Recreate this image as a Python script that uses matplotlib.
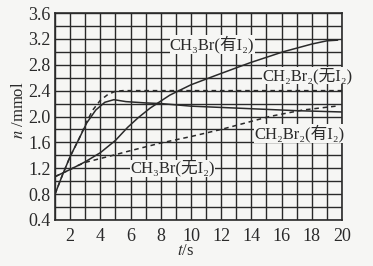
import numpy as np
import matplotlib
matplotlib.use("Agg")
import matplotlib.pyplot as plt
from matplotlib.ticker import MultipleLocator

# values (t in s, n in mmol)
ch3br_i2_t = [1, 2, 3, 4, 5, 5.8, 6.5, 7.3, 8.6, 10, 11.7, 13.9, 16.1, 18, 19, 19.7]
ch3br_i2_n = [1.07, 1.18, 1.30, 1.44, 1.63, 1.83, 1.98, 2.13, 2.33, 2.49, 2.64, 2.83, 3.00, 3.12, 3.17, 3.18]

ch3br_noi2_t = [1, 2, 2.5, 3, 4, 5, 5.8, 8, 10, 12, 15.2, 17.4, 19.6]
ch3br_noi2_n = [1.07, 1.18, 1.24, 1.29, 1.35, 1.41, 1.46, 1.59, 1.69, 1.80, 2.00, 2.10, 2.16]

ch2br2_i2_t = [1, 1.5, 2, 2.6, 3.1, 3.7, 4.3, 4.9, 5.7, 7, 8, 10, 12, 14, 17, 20]
ch2br2_i2_n = [0.80, 1.10, 1.38, 1.66, 1.90, 2.10, 2.22, 2.26, 2.23, 2.21, 2.20, 2.16, 2.14, 2.12, 2.09, 2.07]

ch2br2_noi2_t = [1, 1.5, 2, 2.6, 3.1, 3.5, 4.0, 4.5, 5.0, 5.5, 20]
ch2br2_noi2_n = [0.80, 1.10, 1.38, 1.66, 1.92, 2.10, 2.25, 2.34, 2.39, 2.40, 2.40]

labels = ["CH₃Br(有I₂)", "CH₂Br₂(无I₂)", "CH₂Br₂(有I₂)", "CH₃Br(无I₂)"]
label_pos = [(11.4, 3.11), (17.7, 2.63), (17.2, 1.74), (8.8, 1.20)]

serif = ["Liberation Serif", "DejaVu Serif", "Noto Sans CJK SC"]
plt.rcParams["font.family"] = serif
plt.rcParams["mathtext.fontset"] = "stix"

ink = "#2a2a2a"
bg = "#f6f6f4"

fig = plt.figure(figsize=(3.73, 2.66), dpi=100, facecolor=bg)
ax = fig.add_axes([55 / 373, 1 - 220 / 266, 287 / 373, 207 / 266])
ax.set_facecolor(bg)

ax.set_xlim(1, 20)
ax.set_ylim(0.4, 3.6)
ax.xaxis.set_major_locator(MultipleLocator(2))
ax.xaxis.set_minor_locator(MultipleLocator(1))
ax.yaxis.set_major_locator(MultipleLocator(0.4))
ax.yaxis.set_minor_locator(MultipleLocator(0.2))
ax.grid(which="both", color=ink, linewidth=1.0)
ax.set_axisbelow(True)
for s in ax.spines.values():
    s.set_color(ink)
    s.set_linewidth(1.2)
ax.tick_params(which="both", length=0, colors=ink, labelsize=13)
ax.tick_params(axis="x", pad=5.5)
ax.tick_params(axis="y", pad=3)
ax.yaxis.set_major_formatter(plt.FuncFormatter(lambda v, p: f"{v:.1f}"))

lw = 1.1
ax.plot(ch3br_i2_t, ch3br_i2_n, color=ink, lw=lw)
ax.plot(ch2br2_i2_t, ch2br2_i2_n, color=ink, lw=lw)
ax.plot(ch3br_noi2_t, ch3br_noi2_n, color=ink, lw=lw, dashes=(3, 2.5))
ax.plot(ch2br2_noi2_t, ch2br2_noi2_n, color=ink, lw=lw, dashes=(3, 2.5))

for txt, (x, y) in zip(labels, label_pos):
    ax.text(x, y, txt, fontsize=12, color=ink, ha="center", va="center",
            clip_on=False, bbox=dict(facecolor=bg, edgecolor="none", pad=0.3))

fig.text(19 / 373, 1 - 110 / 266, "$n$ /mmol", rotation=90, ha="center", va="center",
         fontsize=12, color=ink)
fig.text(186 / 373, 1 - 251 / 266, "$t$/s", ha="center", va="center", fontsize=12, color=ink)

fig.savefig("out.png", dpi=100, facecolor=bg)
